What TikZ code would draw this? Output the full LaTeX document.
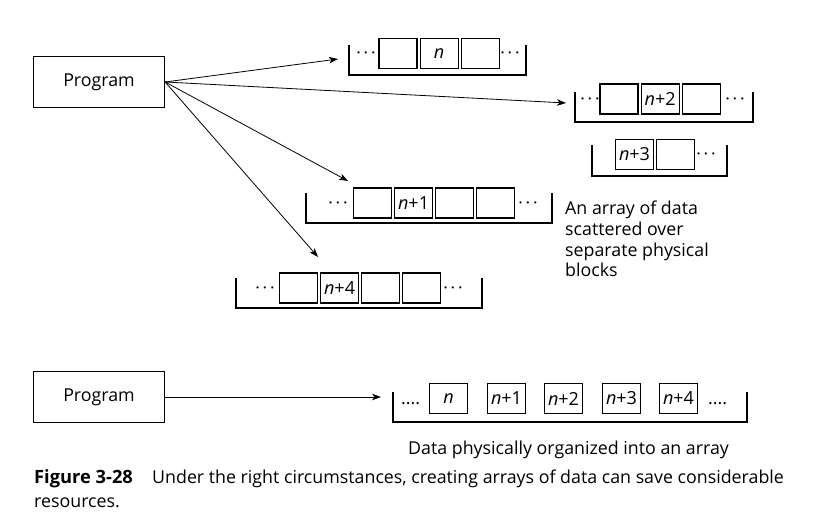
\documentclass[tikz,border=0pt]{standalone}
\usepackage{fontspec}
\setmainfont{Open Sans}
\usetikzlibrary{arrows.meta}
\usetikzlibrary{positioning}
\tikzset{
    cell/.style={draw, line width=1.1pt, minimum width=38pt, minimum height=30pt, inner sep=0pt, font=\fontsize{18}{20}\selectfont},
    prog/.style={draw, line width=1.2pt, minimum width=131pt, minimum height=51pt, font=\fontsize{17.8}{20}\selectfont},
    bracket/.style={line width=1.2pt},
    feed/.style={-{Stealth[length=9pt,width=6.5pt,inset=2.5pt]}, line width=0.8pt},
    txt/.style={anchor=base west, inner sep=0pt, font=\fontsize{17.8}{20}\selectfont},
    cdot/.style={inner sep=0pt, font=\fontsize{15.5}{18}\selectfont\boldmath}
}
\newcommand{\nn}[1]{\textit{n}#1}

\begin{document}
\begin{tikzpicture}[x=1pt,y=-1pt]
    \useasboundingbox (0,0) rectangle (821,521);
    % the two programs
    \node[prog] (prog) at (99,82) {Program};
    \node[prog] (progb) at (99,397) {Program};

    % scattered blocks
    \draw[bracket] (349,45) -- (349,75) -- (526,75) -- (526,45);
    \node[cell] (a1) at (398,53.5) {};
    \node[cell, right=2pt of a1] (a2) {\nn{}};
    \node[cell, right=2pt of a2] (a3) {};
    \node[cdot] (a0) at (366,53) {$\cdots$};
    \node[cdot] (a4) at (510,53) {$\cdots$};

    \draw[bracket] (575,92) -- (575,122) -- (753,122) -- (753,92);
    \node[cell] (b1) at (619,99) {};
    \node[cell, right=2pt of b1] (b2) {\nn{+2}};
    \node[cell, right=2pt of b2] (b3) {};
    \node[cdot] (b0) at (590,99) {$\cdots$};
    \node[cdot] (b4) at (735,99) {$\cdots$};

    \draw[bracket] (592,145) -- (592,176) -- (727,176) -- (727,145);
    \node[cell] (c1) at (634.5,154.5) {\nn{+3}};
    \node[cell, right=2pt of c1] (c2) {};
    \node[cdot] (c3) at (706,154.5) {$\cdots$};

    \draw[bracket] (306,193) -- (306,223) -- (552,223) -- (552,193);
    \node[cell] (d1) at (372.5,203) {};
    \node[cell, right=2pt of d1] (d2) {\nn{+1}};
    \node[cell, right=2pt of d2] (d3) {};
    \node[cell, right=2pt of d3] (d4) {};
    \node[cdot] (d0) at (338,203) {$\cdots$};
    \node[cdot] (d5) at (528,203) {$\cdots$};

    \draw[bracket] (236,278) -- (236,308) -- (482,308) -- (482,278);
    \node[cell] (e1) at (298.5,288) {};
    \node[cell, right=2pt of e1] (e2) {\nn{+4}};
    \node[cell, right=2pt of e2] (e3) {};
    \node[cell, right=2pt of e3] (e4) {};
    \node[cdot] (e0) at (265,288) {$\cdots$};
    \node[cdot] (e5) at (453,288) {$\cdots$};

    % arrows from the program
    \coordinate (ta) at (338,59);
    \coordinate (tb) at (566,103);
    \coordinate (td) at (348,181);
    \coordinate (te) at (318,257);
    \draw[feed] (prog.east) -- (ta);
    \draw[feed] (prog.east) -- (tb);
    \draw[feed] (prog.east) -- (td);
    \draw[feed] (prog.east) -- (te);

    \node[txt] (note1) at (565,215) {An array of data};
    \node[txt] (note2) at (565,235.5) {scattered over};
    \node[txt] (note3) at (565,256) {separate physical};
    \node[txt] (note4) at (565,276) {blocks};

    % one array
    \draw[bracket] (393,392) -- (393,422) -- (747,422) -- (747,392);
    \node[cell] (f0) at (448.5,398.5) {\nn{}};
    \node[cell] (f1) at (506.5,398.5) {\nn{+1}};
    \node[cell] (f2) at (563.5,398.5) {\nn{+2}};
    \node[cell] (f3) at (621.5,398.5) {\nn{+3}};
    \node[cell] (f4) at (678.5,398.5) {\nn{+4}};
    \node[txt] (fl) at (401,404) {....};
    \node[txt] (fr) at (708,404) {....};
    \coordinate (tf) at (381,397);
    \draw[feed] (progb.east) -- (tf);
    \node[txt] (label) at (408,454) {Data physically organized into an array};

    % caption
    \node[txt] (fig) at (34,483) {\fontsize{18.3}{20}\selectfont\textbf{Figure 3-28}};
    \node[txt] (cap) at (152,483) {Under the right circumstances, creating arrays of data can save considerable};
    \node[txt] (cap2) at (34,507) {resources.};
\end{tikzpicture}
\end{document}
